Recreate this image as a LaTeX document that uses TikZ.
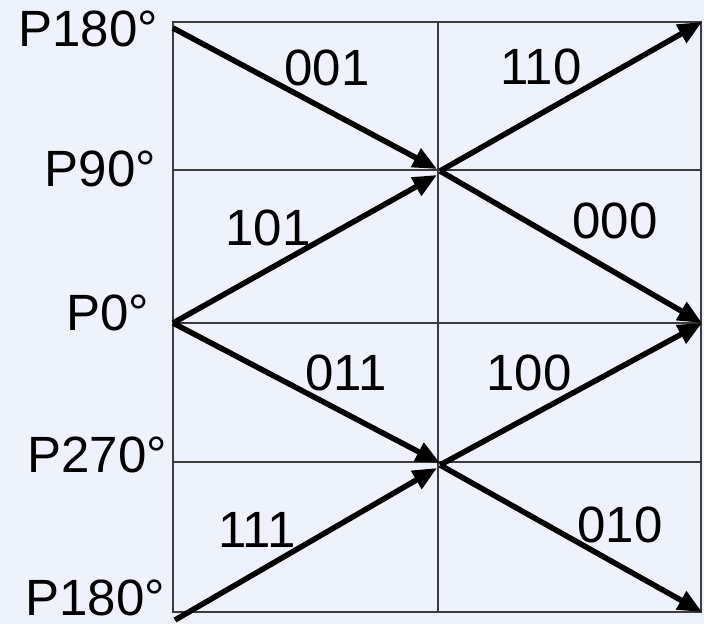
\documentclass[tikz,border=0pt]{standalone}
\usepackage{fontspec}
\setmainfont{Liberation Sans}
\usetikzlibrary{arrows.meta,positioning}
\definecolor{paleblue}{RGB}{238,242,251}
\definecolor{gridgray}{RGB}{60,60,60}
\tikzset{
  gridline/.style = {draw=gridgray,line width=1.2pt},
  trans/.style    = {-{Triangle[length=24pt,width=20pt]},line width=5.5pt},
  phase/.style    = {font=\fontsize{51}{60}\selectfont,anchor=east,inner sep=0pt},
  code/.style     = {font=\fontsize{51}{60}\selectfont,inner sep=0pt},
}

\begin{document}
\begin{tikzpicture}[x=1pt,y=-1pt]
  \fill[paleblue] (0,0) rectangle (704,624);
  \useasboundingbox (0,0) rectangle (704,624);

  % trellis grid
  \coordinate (nw) at (173,22);
  \coordinate (se) at (701,612);
  \draw[gridline] (nw) rectangle (se);
  \draw[gridline] (438,22) -- (438,612);
  \foreach \yy in {170,323,462}
    \draw[gridline] (173,\yy) -- (701,\yy);

  % states
  \coordinate (s180a) at (173,28);
  \coordinate (s0)    at (173,323);
  \coordinate (s180b) at (175,620);
  \coordinate (m90)   at (440,171);
  \coordinate (m90a)  at (437,169);
  \coordinate (m90b)  at (437,175);
  \coordinate (m270)  at (440,465);
  \coordinate (m270a) at (440,463);
  \coordinate (m270b) at (437,468);
  \coordinate (r180)  at (702,22);
  \coordinate (r0)    at (702,323);
  \coordinate (r180b) at (702,612);

  \node[phase] (p180a) at (158,29)  {P180°};
  \node[phase] (p90)   at (156,169) {P90°};
  \node[phase] (p0)    at (149,313) {P0°};
  \node[phase] (p270)  at (167,455) {P270°};
  \node[phase] (p180b) at (165,598) {P180°};

  % transitions
  \draw[trans] (s180a) -- (m90a);
  \draw[trans] (s0) -- (m90b);
  \draw[trans] (s0) -- (m270a);
  \draw[trans] (s180b) -- (m270b);
  \draw[trans] (m90) -- (r180);
  \draw[trans] (m90) -- (r0);
  \draw[trans] (m270) -- (r0);
  \draw[trans] (m270) -- (r180b);

  \node[code] (c001) at (327,68)  {001};
  \node[code] (c110) at (541,67)  {110};
  \node[code] (c101) at (268,228) {101};
  \node[code] (c000) at (615,221) {000};
  \node[code] (c011) at (346,373) {011};
  \node[code] (c100) at (529,373) {100};
  \node[code] (c111) at (257,530) {111};
  \node[code] (c010) at (620,525) {010};
\end{tikzpicture}
\end{document}
